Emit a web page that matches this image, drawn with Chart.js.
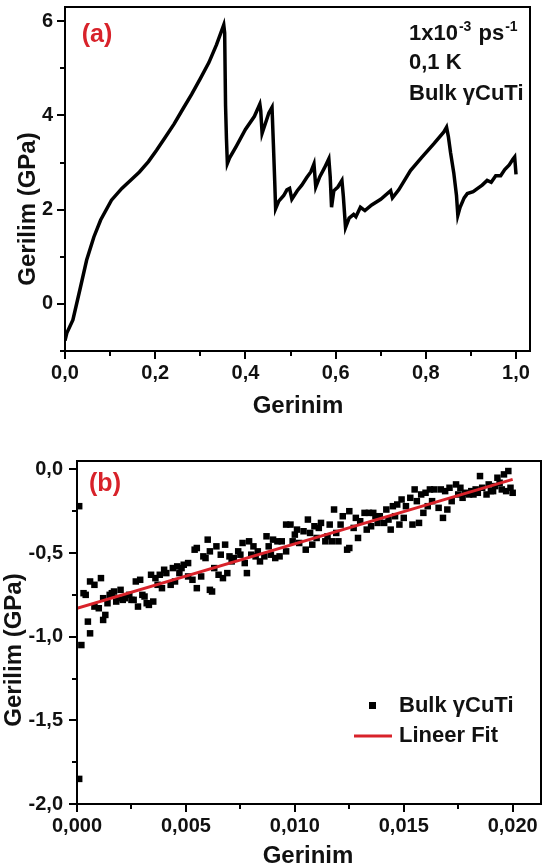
<!DOCTYPE html>
<html lang="en">
<head>
<meta charset="UTF-8">
<title>Gerilim - Gerinim</title>
<script src="https://cdn.jsdelivr.net/npm/chart.js"></script>
<style>
  body { margin: 0; background: #fff; }
  #wrap { position: relative; width: 546px; height: 867px; }
  canvas { position: absolute; left: 0; }
</style>
</head>
<body>
<div id="wrap">
  <canvas id="chartA" width="546" height="430" style="top:0"></canvas>
  <canvas id="chartB" width="546" height="437" style="top:430px"></canvas>
</div>
<script>
// (a) full stress-strain curve
const strainA = [0, 0.004, 0.0175, 0.033, 0.048, 0.064, 0.079, 0.103, 0.126, 0.145,
  0.165, 0.185, 0.203, 0.222, 0.242, 0.261, 0.281, 0.300, 0.319, 0.336,
  0.352, 0.354, 0.356, 0.358, 0.360, 0.365, 0.380, 0.400, 0.420, 0.432,
  0.434, 0.437, 0.445, 0.452, 0.459, 0.462, 0.465, 0.467, 0.474, 0.485,
  0.492, 0.498, 0.503, 0.515, 0.525, 0.536, 0.545, 0.552, 0.556, 0.565,
  0.575, 0.585, 0.588, 0.591, 0.596, 0.605, 0.614, 0.617, 0.622, 0.630,
  0.640, 0.645, 0.655, 0.665, 0.680, 0.700, 0.722, 0.726, 0.740, 0.766,
  0.790, 0.818, 0.840, 0.846, 0.850, 0.855, 0.862, 0.868, 0.871, 0.876,
  0.885, 0.892, 0.905, 0.915, 0.925, 0.936, 0.945, 0.955, 0.966, 0.975,
  0.985, 0.993, 0.997, 1.000];
const stressA = [-0.78, -0.62, -0.34, 0.30, 0.93, 1.42, 1.78, 2.20, 2.45, 2.62,
  2.80, 3.02, 3.26, 3.53, 3.82, 4.13, 4.45, 4.78, 5.12, 5.50,
  5.92, 5.75, 4.20, 3.50, 2.98, 3.10, 3.35, 3.70, 3.98, 4.24,
  4.10, 3.62, 3.85, 4.05, 4.17, 3.40, 2.60, 2.02, 2.18, 2.30,
  2.42, 2.45, 2.22, 2.40, 2.52, 2.68, 2.80, 2.97, 2.48, 2.70,
  2.88, 3.08, 2.70, 2.05, 2.40, 2.48, 2.62, 2.30, 1.62, 1.82,
  1.90, 1.85, 2.05, 1.98, 2.10, 2.22, 2.40, 2.25, 2.42, 2.83,
  3.10, 3.40, 3.65, 3.75, 3.55, 3.20, 2.78, 2.30, 1.88, 2.05,
  2.25, 2.34, 2.38, 2.45, 2.52, 2.62, 2.58, 2.72, 2.72, 2.85,
  2.95, 3.07, 3.12, 2.75];

// (b) first 2% of strain: scatter points + linear fit
const strainB = [0.0001, 0.0001, 0.0002, 0.0003, 0.0004, 0.0005, 0.0006, 0.0006, 0.0008, 0.0008,
  0.0010, 0.0011, 0.0012, 0.0012, 0.0013, 0.0014, 0.0015, 0.0016, 0.0017, 0.0018,
  0.0019, 0.0020, 0.0021, 0.0022, 0.0024, 0.0025, 0.0026, 0.0027, 0.0028, 0.0029,
  0.0030, 0.0031, 0.0032, 0.0033, 0.0034, 0.0035, 0.0036, 0.0037, 0.0038, 0.0039,
  0.0040, 0.0041, 0.0043, 0.0044, 0.0045, 0.0046, 0.0047, 0.0048, 0.0049, 0.0051,
  0.0051, 0.0053, 0.0054, 0.0055, 0.0055, 0.0057, 0.0058, 0.0059, 0.0060, 0.0061,
  0.0061, 0.0062, 0.0063, 0.0064, 0.0065, 0.0066, 0.0067, 0.0068, 0.0069, 0.0070,
  0.0071, 0.0072, 0.0074, 0.0075, 0.0076, 0.0077, 0.0078, 0.0079, 0.0080, 0.0081,
  0.0082, 0.0083, 0.0084, 0.0086, 0.0087, 0.0088, 0.0089, 0.0090, 0.0091, 0.0092,
  0.0093, 0.0094, 0.0096, 0.0096, 0.0098, 0.0099, 0.0100, 0.0101, 0.0102, 0.0104,
  0.0105, 0.0106, 0.0107, 0.0108, 0.0109, 0.0110, 0.0111, 0.0112, 0.0114, 0.0115,
  0.0116, 0.0117, 0.0118, 0.0119, 0.0120, 0.0121, 0.0122, 0.0124, 0.0125, 0.0125,
  0.0127, 0.0128, 0.0129, 0.0130, 0.0132, 0.0133, 0.0134, 0.0135, 0.0136, 0.0137,
  0.0138, 0.0139, 0.0141, 0.0142, 0.0143, 0.0144, 0.0145, 0.0146, 0.0147, 0.0148,
  0.0149, 0.0150, 0.0151, 0.0153, 0.0154, 0.0155, 0.0156, 0.0157, 0.0158, 0.0159,
  0.0160, 0.0161, 0.0162, 0.0163, 0.0164, 0.0166, 0.0167, 0.0168, 0.0169, 0.0170,
  0.0171, 0.0172, 0.0174, 0.0175, 0.0176, 0.0177, 0.0178, 0.0180, 0.0181, 0.0182,
  0.0183, 0.0184, 0.0185, 0.0186, 0.0188, 0.0189, 0.0190, 0.0191, 0.0192, 0.0193,
  0.0194, 0.0195, 0.0196, 0.0197, 0.0198, 0.0199, 0.0200];
const stressB = [-0.22, -1.85, -1.05, -0.74, -0.75, -0.91, -0.98, -0.67, -0.82, -0.69,
  -0.83, -0.65, -0.90, -0.77, -0.87, -0.80, -0.75, -0.74, -0.73, -0.79,
  -0.77, -0.72, -0.78, -0.77, -0.75, -0.78, -0.78, -0.67, -0.82, -0.66,
  -0.75, -0.76, -0.80, -0.81, -0.63, -0.79, -0.65, -0.69, -0.63, -0.71,
  -0.60, -0.62, -0.69, -0.59, -0.67, -0.58, -0.62, -0.59, -0.57, -0.64,
  -0.56, -0.66, -0.48, -0.71, -0.47, -0.64, -0.52, -0.53, -0.42, -0.72,
  -0.49, -0.73, -0.59, -0.46, -0.63, -0.51, -0.65, -0.45, -0.62, -0.52,
  -0.55, -0.53, -0.49, -0.51, -0.44, -0.56, -0.62, -0.43, -0.51, -0.46,
  -0.52, -0.49, -0.55, -0.52, -0.40, -0.46, -0.51, -0.42, -0.53, -0.43,
  -0.52, -0.43, -0.49, -0.33, -0.33, -0.43, -0.39, -0.36, -0.44, -0.37,
  -0.48, -0.30, -0.38, -0.45, -0.34, -0.41, -0.35, -0.32, -0.43, -0.40,
  -0.33, -0.43, -0.24, -0.38, -0.43, -0.33, -0.28, -0.48, -0.47, -0.25,
  -0.35, -0.29, -0.41, -0.31, -0.26, -0.36, -0.26, -0.34, -0.26, -0.28,
  -0.32, -0.28, -0.32, -0.24, -0.30, -0.36, -0.22, -0.28, -0.21, -0.33,
  -0.18, -0.29, -0.22, -0.17, -0.33, -0.12, -0.19, -0.32, -0.15, -0.26,
  -0.14, -0.22, -0.12, -0.19, -0.12, -0.23, -0.12, -0.29, -0.13, -0.24,
  -0.11, -0.19, -0.09, -0.15, -0.11, -0.17, -0.14, -0.15, -0.13, -0.15,
  -0.12, -0.14, -0.04, -0.11, -0.15, -0.09, -0.13, -0.13, -0.10, -0.05,
  -0.08, -0.12, -0.03, -0.13, -0.01, -0.11, -0.14];
const fitStrain = [0, 0.02];
const fitStress = [-0.83, -0.06];

const FONT = '"Liberation Sans", Arial, sans-serif';
const RED = '#d8222a';
Chart.defaults.font.family = FONT;
Chart.defaults.color = '#111';

function comma(v, d) {
  const r = Math.abs(v) < 1e-9 ? 0 : v;
  return r.toFixed(d).replace('.', ',');
}

// box around the plot + outward ticks (long on labelled ticks, short on the others)
const frame = {
  id: 'frame',
  afterDraw(chart) {
    const ctx = chart.ctx, a = chart.chartArea;
    const xs = chart.scales.x, ys = chart.scales.y;
    ctx.save();
    ctx.strokeStyle = '#000';
    ctx.lineWidth = 2;
    ctx.strokeRect(a.left, a.top, a.right - a.left, a.bottom - a.top);
    xs.ticks.forEach(t => {
      const p = Math.round(xs.getPixelForValue(t.value));
      ctx.beginPath();
      ctx.moveTo(p, a.bottom);
      ctx.lineTo(p, a.bottom + (t.label ? 8 : 5));
      ctx.stroke();
    });
    ys.ticks.forEach(t => {
      const p = Math.round(ys.getPixelForValue(t.value));
      ctx.beginPath();
      ctx.moveTo(a.left, p);
      ctx.lineTo(a.left - (t.label ? 8 : 5), p);
      ctx.stroke();
    });
    ctx.restore();
  }
};

function yTitle(ctx, text, x, y) {
  ctx.save();
  ctx.translate(x, y);
  ctx.rotate(-Math.PI / 2);
  ctx.font = 'bold 24px ' + FONT;
  ctx.fillStyle = '#111';
  ctx.textAlign = 'center';
  ctx.textBaseline = 'middle';
  ctx.fillText(text, 0, 0);
  ctx.restore();
}

function plain(ctx, text, x, y, size, color, align) {
  ctx.font = 'bold ' + size + 'px ' + FONT;
  ctx.fillStyle = color;
  ctx.textAlign = align || 'left';
  ctx.textBaseline = 'alphabetic';
  ctx.fillText(text, x, y);
  return ctx.measureText(text).width;
}

const notesA = {
  id: 'notesA',
  afterDraw(chart) {
    const ctx = chart.ctx;
    ctx.save();
    plain(ctx, '(a)', 97, 42, 25, RED, 'center');
    // 1x10^-3 ps^-1
    let x = 409;
    x += plain(ctx, '1x10', x, 40, 22, '#111');
    x += plain(ctx, '-3', x + 1, 31, 14, '#111') + 2;
    x += plain(ctx, ' ps', x, 40, 22, '#111');
    plain(ctx, '-1', x + 1, 31, 14, '#111');
    plain(ctx, '0,1 K', 409, 69, 22, '#111');
    plain(ctx, 'Bulk \u03b3CuTi', 409, 100, 22, '#111');
    yTitle(ctx, 'Gerilim (GPa)', 28, 209);
    plain(ctx, 'Gerinim', 298, 413, 24, '#111', 'center');
    ctx.restore();
  }
};

const notesB = {
  id: 'notesB',
  afterDraw(chart) {
    const ctx = chart.ctx;
    ctx.save();
    plain(ctx, '(b)', 105, 61, 25, RED, 'center');
    yTitle(ctx, 'Gerilim (GPa)', 14, 220);
    plain(ctx, 'Gerinim', 308, 433, 24, '#111', 'center');
    // legend
    ctx.fillStyle = '#000';
    ctx.fillRect(369, 272, 7, 7);
    plain(ctx, 'Bulk \u03b3CuTi', 399, 282, 22, '#111');
    ctx.strokeStyle = RED;
    ctx.lineWidth = 3;
    ctx.beginPath();
    ctx.moveTo(354, 306);
    ctx.lineTo(392, 306);
    ctx.stroke();
    plain(ctx, 'Lineer Fit', 399, 312, 22, '#111');
    ctx.restore();
  }
};

const tickFont = { size: 20, weight: 'bold' };
const noGrid = { display: false, drawTicks: false };
// fixed axis sizes so the plot boxes land where they are in the picture
const fixX = h => s => { s.height = h; s.paddingLeft = 0; s.paddingRight = 0; };
const fixY = w => s => { s.width = w; s.paddingTop = 0; s.paddingBottom = 0; };

new Chart(document.getElementById('chartA'), {
  type: 'line',
  data: {
    datasets: [{
      data: strainA.map((s, i) => ({ x: s, y: stressA[i] })),
      borderColor: '#000',
      borderWidth: 3.5,
      pointRadius: 0,
      tension: 0
    }]
  },
  options: {
    responsive: false,
    animation: false,
    layout: { padding: { top: 7, right: 16, left: 0, bottom: 0 } },
    plugins: { legend: { display: false }, tooltip: { enabled: false } },
    scales: {
      x: {
        type: 'linear', min: 0, max: 1.031,
        afterFit: fixX(79),
        grid: noGrid, border: { display: false },
        ticks: {
          stepSize: 0.1, autoSkip: false, includeBounds: false, maxRotation: 0,
          padding: 10, color: '#111', font: tickFont,
          callback: v => Math.round(v * 10) % 2 === 0 ? comma(v, 1) : ''
        }
      },
      y: {
        type: 'linear', min: -1, max: 6.3,
        afterFit: fixY(65),
        grid: noGrid, border: { display: false },
        ticks: {
          stepSize: 1, autoSkip: false, includeBounds: false,
          padding: 12, color: '#111', font: tickFont,
          callback: v => Math.round(v) % 2 === 0 ? String(Math.round(v)) : ''
        }
      }
    }
  },
  plugins: [frame, notesA]
});

new Chart(document.getElementById('chartB'), {
  type: 'scatter',
  data: {
    datasets: [{
      label: 'Lineer Fit',
      data: fitStrain.map((s, i) => ({ x: s, y: fitStress[i] })),
      showLine: true,
      borderColor: RED,
      borderWidth: 3,
      pointRadius: 0,
      order: 0
    }, {
      label: 'Bulk \u03b3CuTi',
      data: strainB.map((s, i) => ({ x: s, y: stressB[i] })),
      pointStyle: 'rect',
      pointRadius: 4.6,
      backgroundColor: '#000',
      borderWidth: 0,
      order: 1
    }]
  },
  options: {
    responsive: false,
    animation: false,
    layout: { padding: { top: 31, right: 5, left: 0, bottom: 0 } },
    plugins: { legend: { display: false }, tooltip: { enabled: false } },
    scales: {
      x: {
        type: 'linear', min: 0, max: 0.0213,
        afterFit: fixX(63),
        grid: noGrid, border: { display: false },
        ticks: {
          stepSize: 0.0025, autoSkip: false, includeBounds: false, maxRotation: 0,
          padding: 10, color: '#111', font: tickFont,
          callback: v => Math.round(v / 0.0025) % 2 === 0 ? comma(v, 3) : ''
        }
      },
      y: {
        type: 'linear', min: -2, max: 0.05,
        afterFit: fixY(77),
        grid: noGrid, border: { display: false },
        ticks: {
          stepSize: 0.25, autoSkip: false, includeBounds: false,
          padding: 14, color: '#111', font: tickFont,
          callback: v => Math.round(v * 4) % 2 === 0 ? comma(v, 1) : ''
        }
      }
    }
  },
  plugins: [frame, notesB]
});
</script>
</body>
</html>
